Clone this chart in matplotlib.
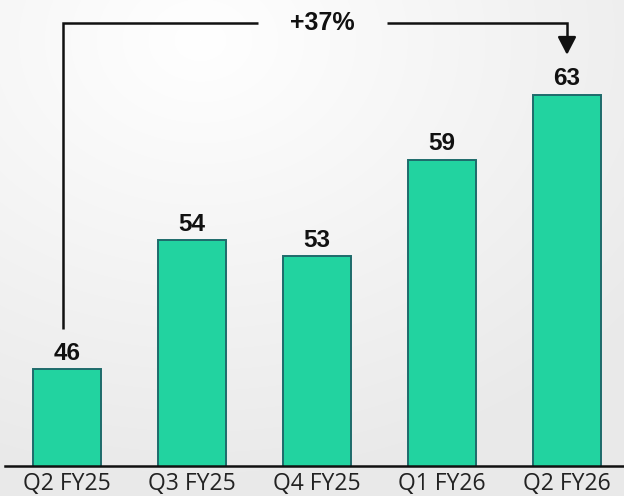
import numpy as np
import matplotlib
matplotlib.use("Agg")
import matplotlib.pyplot as plt

categories = ["Q2 FY25", "Q3 FY25", "Q4 FY25", "Q1 FY26", "Q2 FY26"]
values = [46, 54, 53, 59, 63]
growth_label = "+37%"

BAR_FILL = "#22D3A0"
BAR_EDGE = "#1E6B6B"
INK = "#111111"

W, H = 624, 496
fig = plt.figure(figsize=(W / 100, H / 100), dpi=100)

# soft radial background
bg = fig.add_axes([0, 0, 1, 1], zorder=0)
yy, xx = np.mgrid[0:H, 0:W]
d = np.hypot((xx - 200) / W, (yy - 40) / H)
shade = 1.0 - 0.085 * np.clip(d / 0.9, 0, 1)
bg.imshow(np.dstack([shade] * 3), extent=[0, 1, 0, 1], aspect="auto")
bg.axis("off")

ax = fig.add_axes([5 / W, 30 / H, 1 - 5 / W, 1 - 30 / H], zorder=1)
ax.patch.set_alpha(0)
x = np.arange(len(categories))
ax.bar(x, values, width=0.55, color=BAR_FILL, edgecolor=BAR_EDGE, linewidth=1.4,
       bottom=0, zorder=2)
ax.set_xlim(-0.496, 4.456)
ax.set_ylim(40, 68.9)

for s in ["left", "right", "top"]:
    ax.spines[s].set_visible(False)
ax.spines["bottom"].set_linewidth(1.8)
ax.spines["bottom"].set_color(INK)
ax.set_yticks([])
ax.set_xticks(x)
ax.set_xticklabels(categories, fontsize=16.5, family="Open Sans", color="#222222")
ax.tick_params(axis="x", length=0, pad=4)

for xi, v in zip(x, values):
    ax.annotate(str(v), (xi, v), xytext=(0, 7), textcoords="offset points",
                ha="center", va="baseline", fontsize=17.5, fontweight="bold",
                family="Liberation Sans", color=INK)

# growth bracket from first to last quarter
x0, x1 = x[0] - 0.03, x[-1]
top = max(values) + 4.5
left_bottom = values[0] + 2.5
tip = values[-1] + 2.5
xm = 2.04
gap = 0.516
lw = 1.8
ax.plot([x0, x0, xm - gap], [left_bottom, top, top], color=INK, lw=lw,
        solid_capstyle="butt", solid_joinstyle="miter", zorder=3)
ax.plot([xm + gap, x1, x1], [top, top, tip + 0.8], color=INK, lw=lw,
        solid_capstyle="butt", solid_joinstyle="miter", zorder=3)
ax.annotate("", xy=(x1, tip), xytext=(x1, tip + 1.0),
            arrowprops=dict(arrowstyle="-|>,head_length=1.08,head_width=0.56",
                            mutation_scale=10, color=INK, lw=lw,
                            shrinkA=0, shrinkB=0), zorder=3)
ax.text(xm, top, growth_label, ha="center", va="center", fontsize=18,
        fontweight="bold", family="Liberation Sans", color=INK)

fig.savefig("out.png", dpi=100)
